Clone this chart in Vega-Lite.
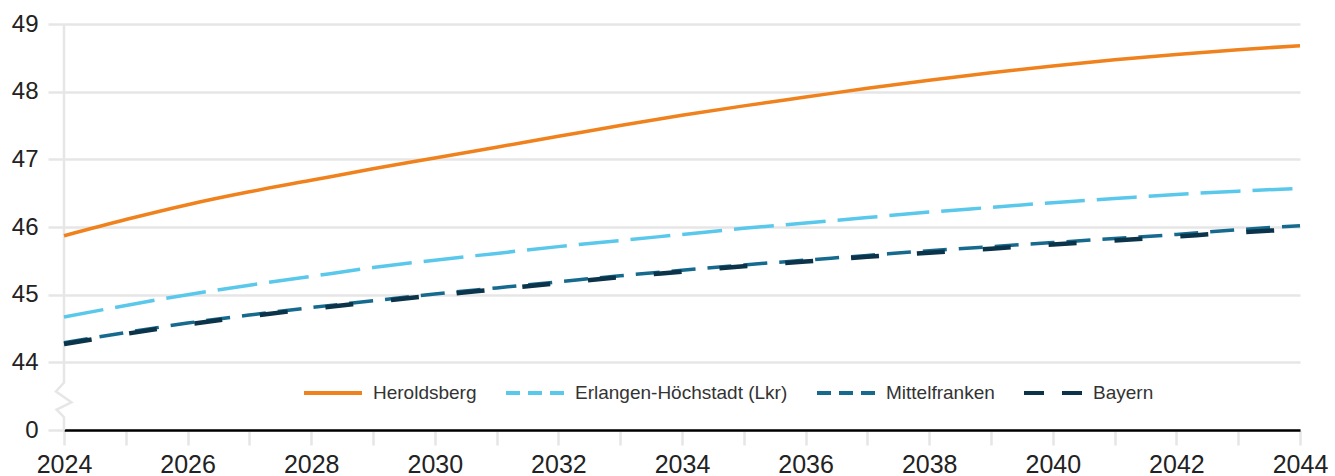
{
  "$schema": "https://vega.github.io/schema/vega-lite/v6.json",
  "width": 1236,
  "height": 406,
  "autosize": {"type": "none"},
  "padding": {"left": 64, "top": 24, "right": 35, "bottom": 46},
  "background": "white",
  "config": {"view": {"stroke": null}, "font": "Liberation Sans"},
  "datasets": {
    "axisline": [
      {"i": 0, "year": 2024, "value": 49},
      {"i": 1, "year": 2024, "value": 43.70},
      {"i": 2, "year": 2023.87, "value": 43.57},
      {"i": 3, "year": 2024.12, "value": 43.41},
      {"i": 4, "year": 2023.88, "value": 43.30},
      {"i": 5, "year": 2024, "value": 43.19},
      {"i": 6, "year": 2024, "value": 43}
    ],
    "series": [
      {"series": "Heroldsberg", "year": 2024, "value": 45.87},
      {"series": "Heroldsberg", "year": 2025, "value": 46.11},
      {"series": "Heroldsberg", "year": 2026, "value": 46.33},
      {"series": "Heroldsberg", "year": 2027, "value": 46.52},
      {"series": "Heroldsberg", "year": 2028, "value": 46.69},
      {"series": "Heroldsberg", "year": 2029, "value": 46.86},
      {"series": "Heroldsberg", "year": 2030, "value": 47.02},
      {"series": "Heroldsberg", "year": 2031, "value": 47.18},
      {"series": "Heroldsberg", "year": 2032, "value": 47.34},
      {"series": "Heroldsberg", "year": 2033, "value": 47.50},
      {"series": "Heroldsberg", "year": 2034, "value": 47.65},
      {"series": "Heroldsberg", "year": 2035, "value": 47.79},
      {"series": "Heroldsberg", "year": 2036, "value": 47.92},
      {"series": "Heroldsberg", "year": 2037, "value": 48.05},
      {"series": "Heroldsberg", "year": 2038, "value": 48.17},
      {"series": "Heroldsberg", "year": 2039, "value": 48.28},
      {"series": "Heroldsberg", "year": 2040, "value": 48.38},
      {"series": "Heroldsberg", "year": 2041, "value": 48.47},
      {"series": "Heroldsberg", "year": 2042, "value": 48.55},
      {"series": "Heroldsberg", "year": 2043, "value": 48.62},
      {"series": "Heroldsberg", "year": 2044, "value": 48.68},
      {"series": "Erlangen-Höchstadt (Lkr)", "year": 2024, "value": 44.67},
      {"series": "Erlangen-Höchstadt (Lkr)", "year": 2025, "value": 44.84},
      {"series": "Erlangen-Höchstadt (Lkr)", "year": 2026, "value": 45.00},
      {"series": "Erlangen-Höchstadt (Lkr)", "year": 2027, "value": 45.14},
      {"series": "Erlangen-Höchstadt (Lkr)", "year": 2028, "value": 45.27},
      {"series": "Erlangen-Höchstadt (Lkr)", "year": 2029, "value": 45.40},
      {"series": "Erlangen-Höchstadt (Lkr)", "year": 2030, "value": 45.51},
      {"series": "Erlangen-Höchstadt (Lkr)", "year": 2031, "value": 45.61},
      {"series": "Erlangen-Höchstadt (Lkr)", "year": 2032, "value": 45.71},
      {"series": "Erlangen-Höchstadt (Lkr)", "year": 2033, "value": 45.80},
      {"series": "Erlangen-Höchstadt (Lkr)", "year": 2034, "value": 45.89},
      {"series": "Erlangen-Höchstadt (Lkr)", "year": 2035, "value": 45.98},
      {"series": "Erlangen-Höchstadt (Lkr)", "year": 2036, "value": 46.06},
      {"series": "Erlangen-Höchstadt (Lkr)", "year": 2037, "value": 46.14},
      {"series": "Erlangen-Höchstadt (Lkr)", "year": 2038, "value": 46.22},
      {"series": "Erlangen-Höchstadt (Lkr)", "year": 2039, "value": 46.29},
      {"series": "Erlangen-Höchstadt (Lkr)", "year": 2040, "value": 46.36},
      {"series": "Erlangen-Höchstadt (Lkr)", "year": 2041, "value": 46.42},
      {"series": "Erlangen-Höchstadt (Lkr)", "year": 2042, "value": 46.48},
      {"series": "Erlangen-Höchstadt (Lkr)", "year": 2043, "value": 46.53},
      {"series": "Erlangen-Höchstadt (Lkr)", "year": 2044, "value": 46.57},
      {"series": "Mittelfranken", "year": 2024, "value": 44.29},
      {"series": "Mittelfranken", "year": 2025, "value": 44.44},
      {"series": "Mittelfranken", "year": 2026, "value": 44.58},
      {"series": "Mittelfranken", "year": 2027, "value": 44.70},
      {"series": "Mittelfranken", "year": 2028, "value": 44.81},
      {"series": "Mittelfranken", "year": 2029, "value": 44.91},
      {"series": "Mittelfranken", "year": 2030, "value": 45.01},
      {"series": "Mittelfranken", "year": 2031, "value": 45.10},
      {"series": "Mittelfranken", "year": 2032, "value": 45.19},
      {"series": "Mittelfranken", "year": 2033, "value": 45.28},
      {"series": "Mittelfranken", "year": 2034, "value": 45.36},
      {"series": "Mittelfranken", "year": 2035, "value": 45.44},
      {"series": "Mittelfranken", "year": 2036, "value": 45.51},
      {"series": "Mittelfranken", "year": 2037, "value": 45.58},
      {"series": "Mittelfranken", "year": 2038, "value": 45.65},
      {"series": "Mittelfranken", "year": 2039, "value": 45.71},
      {"series": "Mittelfranken", "year": 2040, "value": 45.77},
      {"series": "Mittelfranken", "year": 2041, "value": 45.83},
      {"series": "Mittelfranken", "year": 2042, "value": 45.89},
      {"series": "Mittelfranken", "year": 2043, "value": 45.96},
      {"series": "Mittelfranken", "year": 2044, "value": 46.02},
      {"series": "Bayern", "year": 2024, "value": 44.27},
      {"series": "Bayern", "year": 2025, "value": 44.42},
      {"series": "Bayern", "year": 2026, "value": 44.56},
      {"series": "Bayern", "year": 2027, "value": 44.68},
      {"series": "Bayern", "year": 2028, "value": 44.79},
      {"series": "Bayern", "year": 2029, "value": 44.89},
      {"series": "Bayern", "year": 2030, "value": 44.99},
      {"series": "Bayern", "year": 2031, "value": 45.08},
      {"series": "Bayern", "year": 2032, "value": 45.17},
      {"series": "Bayern", "year": 2033, "value": 45.26},
      {"series": "Bayern", "year": 2034, "value": 45.34},
      {"series": "Bayern", "year": 2035, "value": 45.42},
      {"series": "Bayern", "year": 2036, "value": 45.49},
      {"series": "Bayern", "year": 2037, "value": 45.56},
      {"series": "Bayern", "year": 2038, "value": 45.62},
      {"series": "Bayern", "year": 2039, "value": 45.68},
      {"series": "Bayern", "year": 2040, "value": 45.74},
      {"series": "Bayern", "year": 2041, "value": 45.80},
      {"series": "Bayern", "year": 2042, "value": 45.86},
      {"series": "Bayern", "year": 2043, "value": 45.92},
      {"series": "Bayern", "year": 2044, "value": 45.97}
    ]
  },
  "layer": [
    {
      "data": {"name": "axisline"},
      "mark": {"type": "line", "color": "#e6e6e6", "strokeWidth": 2.5, "clip": false},
      "encoding": {
        "x": {
          "field": "year", "type": "quantitative",
          "scale": {"domain": [2024, 2044], "nice": false, "zero": false},
          "axis": {
            "title": null,
            "values": [2024, 2025, 2026, 2027, 2028, 2029, 2030, 2031, 2032, 2033, 2034, 2035, 2036, 2037, 2038, 2039, 2040, 2041, 2042, 2043, 2044],
            "format": "d",
            "labelExpr": "datum.value % 2 == 0 ? datum.label : ''",
            "labelFlush": false,
            "labelOverlap": false,
            "grid": false,
            "domainColor": "#000000",
            "domainWidth": 2.5,
            "tickColor": "#e6e6e6",
            "tickWidth": 2.5,
            "tickSize": 15,
            "labelFontSize": 25,
            "labelColor": "#222222",
            "labelPadding": 7
          }
        },
        "y": {
          "field": "value", "type": "quantitative",
          "scale": {"domain": [43, 49], "nice": false, "zero": false},
          "axis": {
            "title": null,
            "values": [43, 44, 45, 46, 47, 48, 49],
            "format": "d",
            "labelExpr": "datum.value == 43 ? '0' : datum.label",
            "domain": false,
            "grid": true,
            "gridColor": "#e6e6e6",
            "gridWidth": 2.5,
            "tickColor": "#e6e6e6",
            "tickWidth": 2.5,
            "tickSize": 16,
            "labelFontSize": 24,
            "labelColor": "#222222",
            "labelPadding": 10
          }
        },
        "order": {"field": "i", "type": "quantitative"}
      }
    },
    {
      "data": {"name": "series"},
      "transform": [{"filter": "datum.series == 'Heroldsberg'"}],
      "mark": {"type": "line", "interpolate": "monotone", "strokeWidth": 3.5},
      "encoding": {
        "x": {"field": "year", "type": "quantitative"},
        "y": {"field": "value", "type": "quantitative"},
        "color": {
          "field": "series", "type": "nominal",
          "scale": {
            "domain": ["Heroldsberg", "Erlangen-Höchstadt (Lkr)", "Mittelfranken", "Bayern"],
            "range": ["#f0821e", "#5ac8eb", "#156a8e", "#0b3349"]
          },
          "legend": {
            "title": null,
            "orient": "none",
            "direction": "horizontal",
            "legendX": 238,
            "legendY": 338,
            "padding": 0,
            "symbolType": "stroke",
            "symbolSize": 3364,
            "symbolStrokeWidth": 4,
            "labelFontSize": 19,
            "labelColor": "#333333",
            "labelOffset": 9,
            "columnPadding": 21,
            "labelLimit": 400,
            "encode": {
              "symbols": {
                "update": {
                  "strokeDash": {"signal": "datum.value == 'Heroldsberg' ? [1, 0] : datum.value == 'Bayern' ? [20, 18] : [14, 8]"}
                }
              }
            }
          }
        }
      }
    },
    {
      "data": {"name": "series"},
      "transform": [{"filter": "datum.series == 'Erlangen-Höchstadt (Lkr)'"}],
      "mark": {"type": "line", "interpolate": "monotone", "strokeWidth": 3.5, "strokeDash": [40, 12]},
      "encoding": {
        "x": {"field": "year", "type": "quantitative"},
        "y": {"field": "value", "type": "quantitative"},
        "color": {"field": "series", "type": "nominal"}
      }
    },
    {
      "data": {"name": "series"},
      "transform": [{"filter": "datum.series == 'Mittelfranken'"}],
      "mark": {"type": "line", "interpolate": "monotone", "strokeWidth": 3.5, "strokeDash": [24, 12]},
      "encoding": {
        "x": {"field": "year", "type": "quantitative"},
        "y": {"field": "value", "type": "quantitative"},
        "color": {"field": "series", "type": "nominal"}
      }
    },
    {
      "data": {"name": "series"},
      "transform": [{"filter": "datum.series == 'Bayern'"}],
      "mark": {"type": "line", "interpolate": "monotone", "strokeWidth": 4.5, "strokeDash": [28, 38]},
      "encoding": {
        "x": {"field": "year", "type": "quantitative"},
        "y": {"field": "value", "type": "quantitative"},
        "color": {"field": "series", "type": "nominal"}
      }
    }
  ]
}
